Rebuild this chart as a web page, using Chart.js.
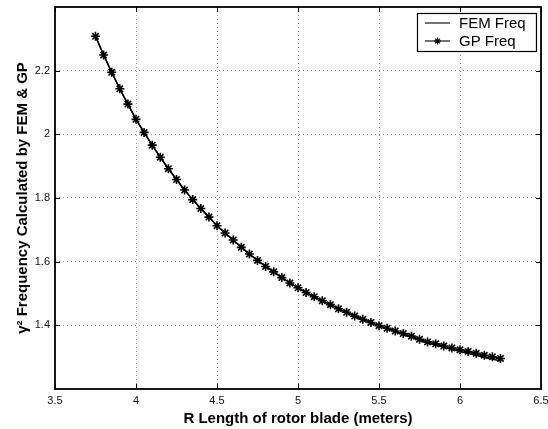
<!DOCTYPE html>
<html>
<head>
<meta charset="utf-8">
<script src="https://cdn.jsdelivr.net/npm/chart.js@4"></script>
<style>
  html, body { margin: 0; padding: 0; background: #fff; }
  canvas { display: block; }
</style>
</head>
<body>
<canvas id="chart" width="548" height="429"></canvas>
<script>
// rotor blade length R (meters), one point every 0.05 m
const radius = [
  3.75, 3.80, 3.85, 3.90, 3.95, 4.00, 4.05, 4.10, 4.15, 4.20,
  4.25, 4.30, 4.35, 4.40, 4.45, 4.50, 4.55, 4.60, 4.65, 4.70,
  4.75, 4.80, 4.85, 4.90, 4.95, 5.00, 5.05, 5.10, 5.15, 5.20,
  5.25, 5.30, 5.35, 5.40, 5.45, 5.50, 5.55, 5.60, 5.65, 5.70,
  5.75, 5.80, 5.85, 5.90, 5.95, 6.00, 6.05, 6.10, 6.15, 6.20,
  6.25
]

// GP prediction (line with * markers)
const gpFreq = [
  2.308, 2.249, 2.195, 2.143, 2.095, 2.047, 2.006, 1.966, 1.928, 1.892,
  1.858, 1.825, 1.795, 1.767, 1.740, 1.713, 1.690, 1.668, 1.645, 1.624,
  1.604, 1.585, 1.568, 1.550, 1.533, 1.518, 1.503, 1.490, 1.477, 1.465,
  1.452, 1.441, 1.429, 1.419, 1.409, 1.399, 1.391, 1.382, 1.374, 1.366,
  1.356, 1.348, 1.342, 1.335, 1.329, 1.323, 1.318, 1.312, 1.306, 1.301,
  1.296
]

// FEM result (plain line), drifts a little below GP at the long end
const femFreq = [
  2.308, 2.249, 2.195, 2.143, 2.095, 2.047, 2.006, 1.966, 1.928, 1.892,
  1.858, 1.825, 1.795, 1.767, 1.740, 1.713, 1.690, 1.668, 1.645, 1.624,
  1.604, 1.585, 1.568, 1.550, 1.533, 1.518, 1.503, 1.490, 1.477, 1.465,
  1.452, 1.441, 1.429, 1.419, 1.409, 1.399, 1.390, 1.381, 1.372, 1.364,
  1.353, 1.345, 1.338, 1.331, 1.324, 1.318, 1.312, 1.306, 1.299, 1.294,
  1.288
]

const xTicks = [3.5, 4, 4.5, 5, 5.5, 6, 6.5]
const yTicks = [1.4, 1.6, 1.8, 2, 2.2]

const seriesNames = ["FEM Freq", "GP Freq"]
const xTitle = "R Length of rotor blade (meters)"
const yTitle = "\u03b3\u00b2 Frequency Calculated by FEM & GP"

const FONT = "'Liberation Sans', Arial, Helvetica, sans-serif"

const toPoints = (ys) => ys.map((y, i) => ({x: radius[i], y: y}))
// matlab writes 2 not 2.0
const tickText = (v) => String(Math.round(v * 10) / 10)

// black box round the axes + little inward tick marks like matlab
const frameBox = {
  id: "frameBox",
  afterDraw(chart) {
    const {ctx, chartArea: a, scales} = chart
    ctx.save()
    ctx.strokeStyle = "#000"
    ctx.lineWidth = 1
    const tl = 5
    ctx.beginPath()
    xTicks.forEach(v => {
      const px = Math.round(scales.x.getPixelForValue(v)) + 0.5
      ctx.moveTo(px, a.bottom); ctx.lineTo(px, a.bottom - tl)
      ctx.moveTo(px, a.top); ctx.lineTo(px, a.top + tl)
    })
    yTicks.forEach(v => {
      const py = Math.round(scales.y.getPixelForValue(v)) + 0.5
      ctx.moveTo(a.left, py); ctx.lineTo(a.left + tl, py)
      ctx.moveTo(a.right, py); ctx.lineTo(a.right - tl, py)
    })
    ctx.stroke()
    ctx.lineWidth = 1.8
    ctx.strokeRect(a.left, a.top, a.right - a.left, a.bottom - a.top)
    ctx.restore()
  }
}

// matlab style legend box, top right inside the axes
const boxLegend = {
  id: "boxLegend",
  afterDraw(chart) {
    const {ctx, chartArea: a} = chart
    const w = 119, h = 38
    const x0 = a.right - 5 - w, y0 = a.top + 6
    ctx.save()
    ctx.fillStyle = "#fff"
    ctx.fillRect(x0, y0, w, h)
    ctx.strokeStyle = "#000"
    ctx.lineWidth = 1.2
    ctx.strokeRect(x0 + 0.5, y0 + 0.5, w, h)
    ctx.font = "15px " + FONT
    ctx.textBaseline = "middle"
    ctx.fillStyle = "#000"
    chart.data.datasets.forEach((ds, i) => {
      const yy = y0 + 10 + i * 18
      ctx.lineWidth = 1.1
      ctx.beginPath()
      ctx.moveTo(x0 + 8, yy); ctx.lineTo(x0 + 33, yy)
      ctx.stroke()
      if (ds.pointRadius > 0) {
        Chart.helpers.drawPoint(ctx, {pointStyle: "star", radius: 3.5, borderWidth: 1.4}, x0 + 20.5, yy)
      }
      ctx.fillText(ds.label, x0 + 42, yy + 1)
    })
    ctx.restore()
  }
}

new Chart(document.getElementById("chart"), {
  type: "line",
  data: {
    datasets: [
      {
        label: seriesNames[0],
        data: toPoints(femFreq),
        borderColor: "#000",
        borderWidth: 1.4,
        pointRadius: 0,
        tension: 0
      },
      {
        label: seriesNames[1],
        data: toPoints(gpFreq),
        borderColor: "#000",
        backgroundColor: "#000",
        borderWidth: 1.4,
        pointStyle: "star",
        pointRadius: 4.5,
        pointBorderWidth: 1.6,
        pointBorderColor: "#000",
        tension: 0
      }
    ]
  },
  options: {
    responsive: false,
    animation: false,
    layout: { autoPadding: false, padding: { top: 7, right: 7, left: 0, bottom: 0 } },
    plugins: {
      legend: { display: false },
      tooltip: { enabled: false }
    },
    scales: {
      x: {
        type: "linear",
        min: 3.5,
        max: 6.5,
        afterBuildTicks: s => { s.ticks = xTicks.map(v => ({value: v})) },
        afterFit: s => { s.height = 40; s.paddingLeft = 0; s.paddingRight = 0 },
        ticks: {
          color: "#111",
          font: { family: FONT, size: 11 },
          padding: 5,
          maxRotation: 0,
          callback: tickText
        },
        grid: { color: "#999", lineWidth: 1, drawTicks: false },
        border: { display: false, dash: [1, 3] },
        title: {
          display: true,
          text: xTitle,
          color: "#000",
          font: { family: FONT, size: 15, weight: "bold", lineHeight: 1.2 },
          padding: { top: 0, bottom: 1 }
        }
      },
      y: {
        type: "linear",
        min: 1.2,
        max: 2.4,
        afterBuildTicks: s => { s.ticks = yTicks.map(v => ({value: v})) },
        afterFit: s => { s.width = 55; s.paddingTop = 0; s.paddingBottom = 0 },
        ticks: {
          color: "#111",
          font: { family: FONT, size: 11 },
          padding: 5,
          callback: tickText
        },
        grid: { color: "#999", lineWidth: 1, drawTicks: false },
        border: { display: false, dash: [1, 3] },
        title: {
          display: true,
          text: yTitle,
          color: "#000",
          font: { family: FONT, size: 15, weight: "bold", lineHeight: 1.2 },
          padding: { top: 14, bottom: 0 }
        }
      }
    }
  },
  plugins: [frameBox, boxLegend]
})
</script>
</body>
</html>
